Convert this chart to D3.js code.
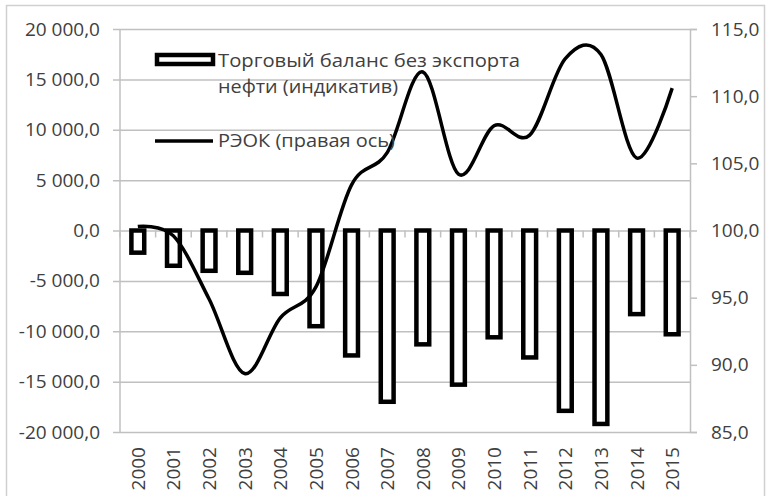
<!DOCTYPE html>
<html>
<head>
<meta charset="utf-8">
<script src="https://cdn.jsdelivr.net/npm/d3@7"></script>
<style>
  body { margin: 0; background: #fff; }
  text { font-family: "Open Sans", "Noto Sans", sans-serif; fill: #404040; }
</style>
</head>
<body>
<svg id="chart" width="768" height="496"></svg>
<script>
var years = ["2000","2001","2002","2003","2004","2005","2006","2007",
             "2008","2009","2010","2011","2012","2013","2014","2015"];
// торговый баланс без экспорта нефти (левая ось)
var balance = [-2200,-3500,-4000,-4200,-6300,-9500,-12400,-17000,
               -11300,-15300,-10600,-12600,-17900,-19200,-8300,-10300];
// РЭОК (правая ось)
var reok = [100.3,99.6,94.9,89.35,93.5,95.8,103.4,105.8,
            111.8,104.2,107.8,107.1,112.8,113.1,105.4,110.6];
var leftTicks = [-20000,-15000,-10000,-5000,0,5000,10000,15000,20000];
var rightTicks = [85,90,95,100,105,110,115];
var legendBar = ["Торговый баланс без экспорта", "нефти (индикатив)"];
var legendLine = "РЭОК (правая ось)";

var margin = {top: 29, right: 78, bottom: 64, left: 120},
    width = 768 - margin.left - margin.right,
    height = 496 - margin.top - margin.bottom;
var fs = 19;

var ru = d3.formatLocale({decimal: ",", thousands: "\u00a0", grouping: [3], currency: ["", ""], minus: "-"});
var fmtL = ru.format(",.1f"), fmtR = ru.format(".1f");

var svg = d3.select("#chart");

// frame
svg.append("rect")
    .attr("x", 6.5).attr("y", 5.5).attr("width", 758).attr("height", 500)
    .attr("fill", "none").attr("stroke", "#d0d0d0").attr("stroke-width", 1.5);

var g = svg.append("g")
    .attr("transform", "translate(" + margin.left + "," + margin.top + ")");

var x = d3.scaleBand().domain(years).range([0, width]).padding(0);
var yL = d3.scaleLinear().domain([-20000, 20000]).range([height, 0]);
var yR = d3.scaleLinear().domain([85, 115]).range([height, 0]);

// gridlines + left axis
var axL = g.append("g")
    .call(d3.axisLeft(yL).tickValues(leftTicks).tickSize(-width).tickFormat(fmtL).tickPadding(20));
axL.select(".domain").remove();
axL.selectAll("line").attr("stroke", "#c0c0c0").attr("stroke-width", 1.5).attr("x1", -7);
axL.selectAll("text").attr("font-size", fs).style("fill", "#404040");

g.append("line").attr("x1", 0).attr("x2", 0).attr("y1", 0).attr("y2", height)
    .attr("stroke", "#c0c0c0").attr("stroke-width", 1.5);

// right axis
var axR = g.append("g")
    .attr("transform", "translate(" + width + ",0)")
    .call(d3.axisRight(yR).tickValues(rightTicks).tickSize(7).tickFormat(fmtR).tickPadding(14));
axR.select(".domain").attr("stroke", "#c0c0c0").attr("stroke-width", 1.5);
axR.selectAll("line").attr("stroke", "#c0c0c0").attr("stroke-width", 1.5);
axR.selectAll("text").attr("font-size", fs).style("fill", "#404040");

// category axis at zero
var axX = g.append("g")
    .attr("transform", "translate(0," + yL(0) + ")");
axX.selectAll("line.tk")
    .data(d3.range(years.length + 1))
    .enter().append("line")
    .attr("class", "tk")
    .attr("x1", function(i) { return i * x.bandwidth(); })
    .attr("x2", function(i) { return i * x.bandwidth(); })
    .attr("y1", 0).attr("y2", 7)
    .attr("stroke", "#c0c0c0").attr("stroke-width", 1.5);

// year labels at bottom
g.append("g")
    .selectAll("text")
    .data(years)
    .enter().append("text")
    .attr("transform", function(d) {
        return "translate(" + (x(d) + x.bandwidth() / 2 + 7) + "," + (height + 15) + ") rotate(-90)";
    })
    .attr("text-anchor", "end")
    .attr("font-size", fs)
    .text(function(d) { return d; });

// bars
var bw = x.bandwidth() * 0.36;
g.append("g")
    .selectAll("rect")
    .data(balance)
    .enter().append("rect")
    .attr("x", function(d, i) { return x(years[i]) + x.bandwidth() / 2 - bw / 2; })
    .attr("y", function(d) { return yL(Math.max(0, d)); })
    .attr("width", bw)
    .attr("height", function(d) { return Math.abs(yL(d) - yL(0)); })
    .attr("fill", "#fff")
    .attr("stroke", "#000")
    .attr("stroke-width", 4.5);

// line
var line = d3.line()
    .x(function(d, i) { return x(years[i]) + x.bandwidth() / 2; })
    .y(function(d) { return yR(d); })
    .curve(d3.curveCardinal.tension(0));

g.append("path")
    .datum(reok)
    .attr("d", line)
    .attr("fill", "none")
    .attr("stroke", "#000")
    .attr("stroke-width", 3.5);

// legend
var lg = svg.append("g");
lg.append("rect")
    .attr("x", 157).attr("y", 55).attr("width", 56).attr("height", 9)
    .attr("fill", "#fff").attr("stroke", "#000").attr("stroke-width", 4.5);
lg.append("text").attr("x", 218).attr("y", 67).attr("font-size", fs)
    .attr("textLength", 302).attr("lengthAdjust", "spacingAndGlyphs").text(legendBar[0]);
lg.append("text").attr("x", 218).attr("y", 93).attr("font-size", fs)
    .attr("textLength", 180).attr("lengthAdjust", "spacingAndGlyphs").text(legendBar[1]);
lg.append("line")
    .attr("x1", 155).attr("x2", 213).attr("y1", 141).attr("y2", 141)
    .attr("stroke", "#000").attr("stroke-width", 3.5);
lg.append("text").attr("x", 218).attr("y", 147).attr("font-size", fs)
    .attr("textLength", 177).attr("lengthAdjust", "spacingAndGlyphs").text(legendLine);
</script>
</body>
</html>
